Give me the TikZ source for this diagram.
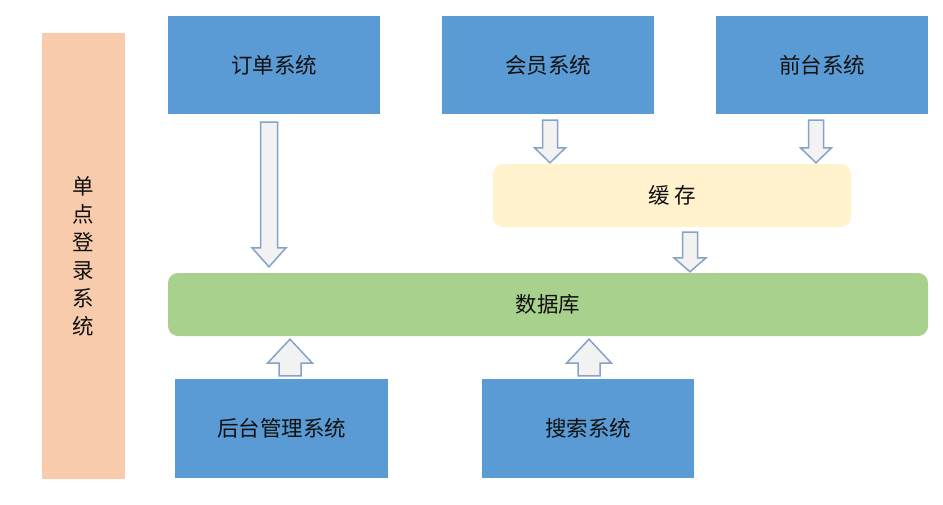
\documentclass[tikz,border=0pt]{standalone}
\usepackage{fontspec}
\newfontfamily\cjk{Noto Sans CJK SC}
\usetikzlibrary{calc}
\definecolor{sysblue}{HTML}{5B9BD5}
\definecolor{ssopeach}{HTML}{F8CBAD}
\definecolor{cacheyellow}{HTML}{FFF2CC}
\definecolor{dbgreen}{HTML}{A9D18E}
\definecolor{arrowline}{HTML}{86A2C4}
\definecolor{arrowfill}{HTML}{F2F2F2}
\definecolor{txt}{HTML}{111111}
\tikzset{
  box/.style={draw=none, inner sep=0pt, text=txt, font=\cjk\fontsize{21.5}{26}\selectfont},
  sysbox/.style={box, fill=sysblue, minimum width=212pt, minimum height=98pt},
  roundbox/.style={box, rounded corners=10pt},
  blockarrow/.style={draw=arrowline, fill=arrowfill, line width=1.5pt, line join=miter}
}
% down arrow: #1 start, #2 tip, #3 shaft half width, #4 head half width, #5 head length
\newcommand\barrowdown[5]{%
  \draw[blockarrow] let \p1=(#1), \p2=(#2) in
    (\x1-#3,\y1) -- (\x1+#3,\y1) -- (\x1+#3,\y2+#5) -- (\x1+#4,\y2+#5) -- (\x1,\y2)
    -- (\x1-#4,\y2+#5) -- (\x1-#3,\y2+#5) -- cycle;}
\newcommand\barrowup[5]{%
  \draw[blockarrow] let \p1=(#1), \p2=(#2) in
    (\x1-#3,\y1) -- (\x1+#3,\y1) -- (\x1+#3,\y2-#5) -- (\x1+#4,\y2-#5) -- (\x1,\y2)
    -- (\x1-#4,\y2-#5) -- (\x1-#3,\y2-#5) -- cycle;}
\begin{document}
\begin{tikzpicture}[x=1pt, y=-1pt]
\useasboundingbox (0,0) rectangle (943,504);
\fill[white] (0,0) rectangle (943,504);

% left SSO bar
\node[box, fill=ssopeach, minimum width=83pt, minimum height=446pt, align=center,
      font=\cjk\fontsize{21.5}{28}\selectfont] (sso) at (83.5,256)
  {单\\点\\登\\录\\系\\统};

% top systems
\node[sysbox] (order)  at (274,65) {订单系统};
\node[sysbox] (member) at (548,65) {会员系统};
\node[sysbox] (front)  at (822,65) {前台系统};

% cache
\node[roundbox, fill=cacheyellow, minimum width=358pt, minimum height=63pt] (cache) at (672,195.5) {缓 存};

% database
\node[roundbox, fill=dbgreen, minimum width=760pt, minimum height=63pt] (db) at (548,304.5) {数据库};

% bottom systems
\node[sysbox, minimum width=213pt, minimum height=99pt] (admin)  at (281.5,428.5) {后台管理系统};
\node[sysbox, minimum width=212pt, minimum height=99pt] (search) at (588,428.5) {搜索系统};

% arrow end points
\coordinate (o1) at ($(order.south)+(-5,8)$);
\coordinate (o2) at ($(o1 |- db.north)+(0,-6)$);
\coordinate (m1) at ($(member.south)+(2,6)$);
\coordinate (m2) at ($(m1 |- cache.north)+(0,-1)$);
\coordinate (f1) at ($(front.south)+(-6,6)$);
\coordinate (f2) at ($(f1 |- cache.north)+(0,-1)$);
\coordinate (c1) at ($(cache.south)+(18,5)$);
\coordinate (c2) at ($(c1 |- db.north)+(0,-1)$);
\coordinate (b1) at ($(admin.north)+(8.5,-3)$);
\coordinate (b2) at ($(b1 |- db.south)+(0,3)$);
\coordinate (s1) at ($(search.north)+(1,-3)$);
\coordinate (s2) at ($(s1 |- db.south)+(0,3)$);

\barrowdown{o1}{o2}{8.5pt}{17pt}{19pt}
\barrowdown{m1}{m2}{7.5pt}{15.5pt}{15pt}
\barrowdown{f1}{f2}{7.5pt}{15.5pt}{15pt}
\barrowdown{c1}{c2}{7.5pt}{16pt}{14pt}
\barrowup{b1}{b2}{11pt}{22.5pt}{24pt}
\barrowup{s1}{s2}{11pt}{22.5pt}{24pt}
\end{tikzpicture}
\end{document}
